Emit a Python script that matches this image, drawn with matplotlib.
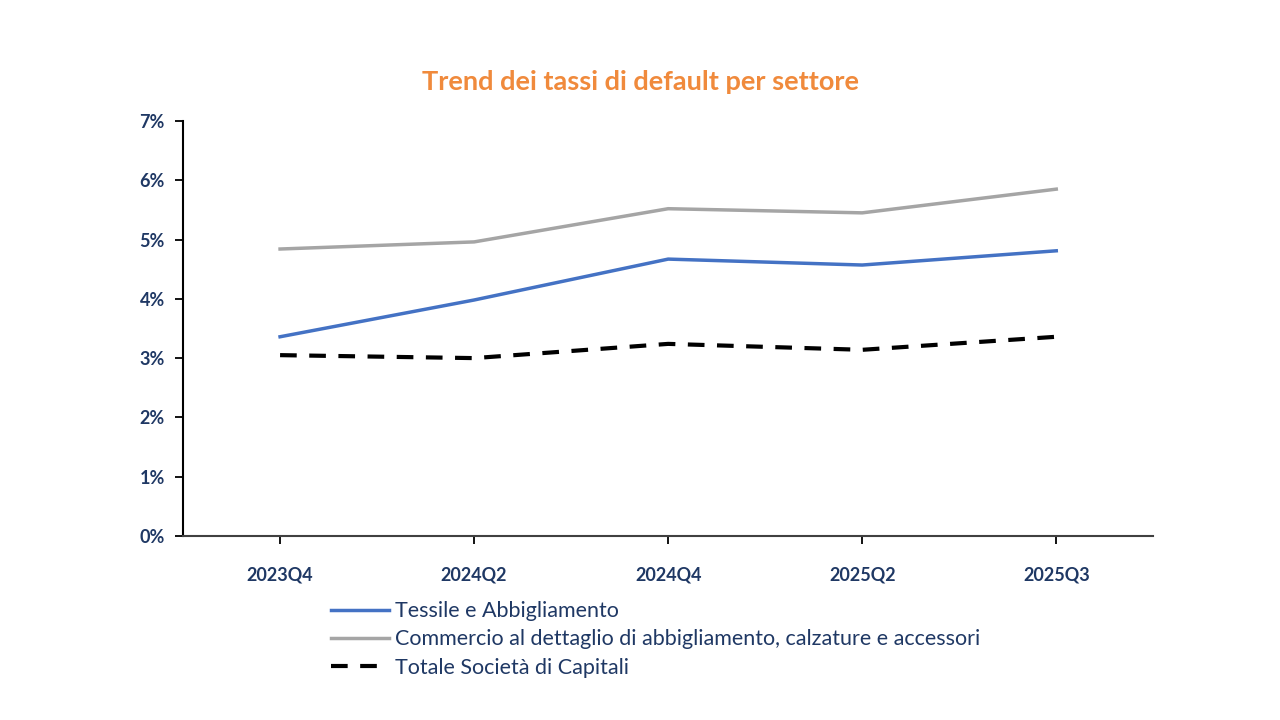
import matplotlib
matplotlib.use("Agg")
import matplotlib.pyplot as plt
from matplotlib.ticker import FuncFormatter

categories = ["2023Q4", "2024Q2", "2024Q4", "2025Q2", "2025Q3"]
tessile = [3.36, 3.98, 4.67, 4.57, 4.81]
commercio = [4.84, 4.96, 5.52, 5.45, 5.85]
totale = [3.05, 3.00, 3.24, 3.14, 3.36]
labels = ["Tessile e Abbigliamento",
          "Commercio al dettaglio di abbigliamento, calzature e accessori",
          "Totale Società di Capitali"]
title = "Trend dei tassi di default per settore"

navy = "#1F3864"
plt.rcParams['font.family'] = ['Lato', 'DejaVu Sans']

fig = plt.figure(figsize=(12.8, 7.2), dpi=100)
ax = fig.add_axes([0.143, 0.2556, 0.758, 0.5764])
x = list(range(len(categories)))
ax.plot(x, tessile, color="#4472C4", lw=2.5, label=labels[0])
ax.plot(x, commercio, color="#A5A5A5", lw=2.5, label=labels[1])
ax.plot(x, totale, color="black", lw=3, ls=(0, (4, 3)), label=labels[2])

ax.set_xlim(-0.5, 4.5)
ax.set_ylim(0, 7)
ax.set_yticks(range(0, 8))
ax.yaxis.set_major_formatter(FuncFormatter(lambda v, p: f"{int(v)}%"))
ax.set_xticks(x)
ax.set_xticklabels(categories)
for s in ["top", "right"]:
    ax.spines[s].set_visible(False)
ax.spines["left"].set_linewidth(1.5)
ax.spines["bottom"].set_linewidth(1.5)
ax.spines["bottom"].set_color("#404040")
ax.tick_params(axis="y", length=6, width=1.3, labelsize=13, labelcolor=navy, pad=7)
ax.tick_params(axis="x", length=6, width=1.3, labelsize=13, labelcolor=navy, pad=16)
for lab in ax.get_xticklabels() + ax.get_yticklabels():
    lab.set_fontweight("bold")

fig.text(0.5, 0.886, title, ha="center", va="center", fontsize=19.5,
         fontweight="bold", color="#F08A3C")

leg = fig.legend(loc="upper left", bbox_to_anchor=(0.250, 0.180), frameon=False,
                 fontsize=15.5, handlelength=2.7, handletextpad=0.3,
                 labelspacing=0.38, borderpad=0)
for t in leg.get_texts():
    t.set_color(navy)

fig.savefig("out.png", dpi=100)
